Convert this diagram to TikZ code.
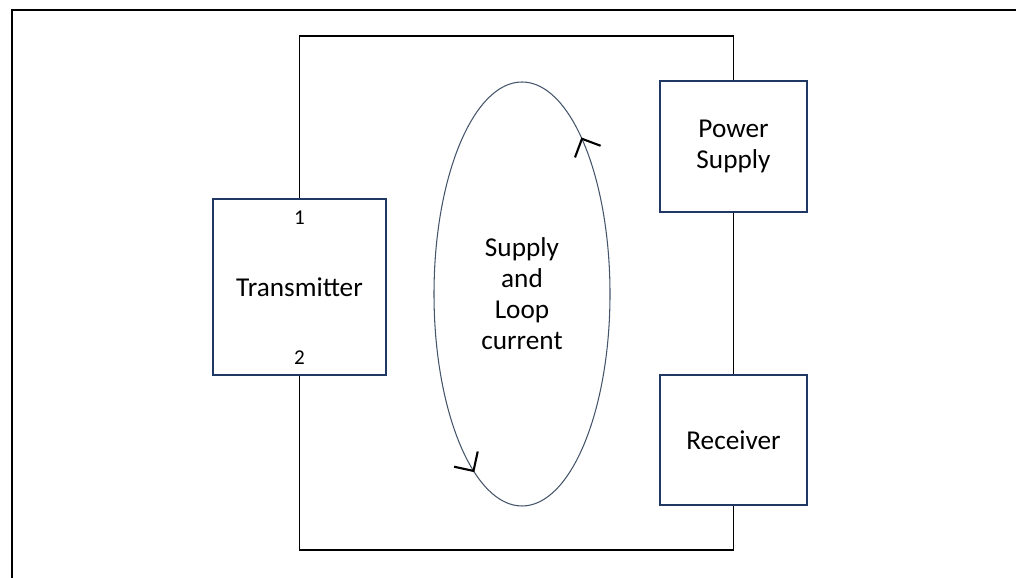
\documentclass[tikz,border=0pt]{standalone}
\usepackage{fontspec}
\setmainfont{Carlito}
\usetikzlibrary{decorations.markings,arrows.meta}
\definecolor{boxblue}{HTML}{1F3864}
\definecolor{loopgray}{HTML}{44546A}
\tikzset{unit/.style={draw=boxblue, line width=1.1pt, align=center, font=\fontsize{15.5}{17.6}\selectfont}, pinlabel/.style={font=\fontsize{12}{14}\selectfont, inner sep=0pt}, wire/.style={line width=1.1pt}}

\begin{document}
\begin{tikzpicture}
        \useasboundingbox (0,0) rectangle (20.32,11.56);
        \draw[wire] (0.24,0) -- (0.24,11.36) -- (20.32,11.36);
        \node[unit, minimum width=3.46cm, minimum height=3.52cm] (tx) at (5.99,5.82) {Transmitter};
        \node[pinlabel] (pin1) at ([yshift=-0.4cm]tx.north) {1}; \node[pinlabel] (pin2) at ([yshift=0.36cm]tx.south) {2};
        \node[unit, minimum width=2.94cm, minimum height=2.62cm] (ps) at (14.67,8.63) {Power\\Supply};
        \node[unit, minimum width=2.94cm, minimum height=2.6cm] (rx) at (14.67,2.76) {Receiver};
        \coordinate (top) at (5.99,10.84); \coordinate (bot) at (5.99,0.56);
        \draw[wire] (tx.north) -- (top) -| (ps.north); \draw[wire] (ps.south) -- (rx.north); \draw[wire] (rx.south) |- (bot) -- (tx.south);
        \begin{scope}[decoration={markings,mark=at position 0.163 with {\arrow{Straight Barb[length=8pt,width=16pt,line width=1.2pt,color=black]}},mark=at position 0.688 with {\arrow{Straight Barb[length=8pt,width=16pt,line width=1.2pt,color=black]}}}]
            \node[align=center, font=\fontsize{15.5}{17.6}\selectfont] (loop) at (10.44,5.68) {Supply\\and\\Loop\\current};
            \draw[postaction={decorate}, color=loopgray, line width=0.6pt] (loop.center) ellipse [x radius=1.76, y radius=4.24];
        \end{scope}
    \end{tikzpicture}
\end{document}
